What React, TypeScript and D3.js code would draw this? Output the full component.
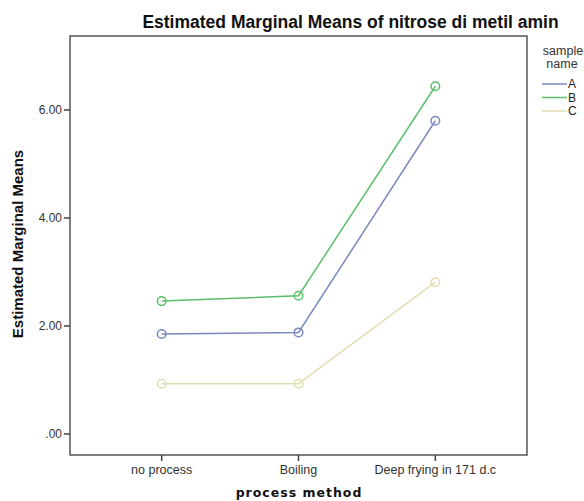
import React from "react";
import * as d3 from "d3";

const categories = ["no process", "Boiling", "Deep frying in 171 d.c"];
const seriesNames = ["A", "B", "C"];
const valuesA = [1.85, 1.88, 5.8];
const valuesB = [2.46, 2.56, 6.44];
const valuesC = [0.93, 0.93, 2.81];
const yTicks = [0, 2, 4, 6];
const colors = ["#7b88c0", "#5cbf6b", "#e2ddb3"];

const W = 584;
const H = 501;
const left = 70, right = 527, top = 36, bottom = 455;

export default function App() {
  const x = d3.scalePoint<string>().domain(categories).range([left, right]).padding(0.67);
  const y = d3.scaleLinear().domain([-0.39, 7.37]).range([bottom, top]);
  const line = d3.line<[string, number]>().x((d) => x(d[0]) as number).y((d) => y(d[1]));
  const all = [valuesA, valuesB, valuesC];
  const font = "Arial, 'Liberation Sans', sans-serif";
  return (
    <svg width={W} height={H} style={{ position: "absolute", left: 0, top: 0, background: "#fff" }}>
      <rect x={0} y={0} width={W} height={H} fill="#fff" />
      <text x={350.5} y={28} textAnchor="middle" fontFamily={font} fontWeight="bold" fontSize={17.5} fill="#111">
        Estimated Marginal Means of nitrose di metil amin
      </text>
      <rect x={left} y={top} width={right - left} height={bottom - top} fill="none" stroke="#555" strokeWidth={1.5} />
      {yTicks.map((t) => (
        <g key={t}>
          <line x1={left - 6} x2={left} y1={y(t)} y2={y(t)} stroke="#444" strokeWidth={1.5} />
          <text x={left - 8} y={y(t)} dy="0.35em" textAnchor="end" fontFamily={font} fontSize={12} fill="#333">
            {t === 0 ? ".00" : t.toFixed(2)}
          </text>
        </g>
      ))}
      {categories.map((c) => (
        <g key={c}>
          <line x1={x(c)} x2={x(c)} y1={bottom} y2={bottom + 6} stroke="#444" strokeWidth={1.5} />
          <text x={x(c)} y={bottom + 19} textAnchor="middle" fontFamily={font} fontSize={12.5} fill="#333">
            {c}
          </text>
        </g>
      ))}
      <text
        transform={`translate(23,${244}) rotate(-90)`}
        textAnchor="middle"
        fontFamily={font}
        fontWeight="bold"
        fontSize={15}
        fill="#111"
      >
        Estimated Marginal Means
      </text>
      <text x={299} y={497} textAnchor="middle" fontFamily="'DejaVu Sans', Verdana, sans-serif" fontWeight="bold" fontSize={12.5} letterSpacing={1} fill="#111">
        process method
      </text>
      {all.map((vals, i) => {
        const pts: [string, number][] = categories.map((c, j) => [c, vals[j]]);
        return (
          <g key={i}>
            <path d={line(pts) || ""} fill="none" stroke={colors[i]} strokeWidth={1.5} />
            {pts.map((p, j) => (
              <circle key={j} cx={x(p[0])} cy={y(p[1])} r={4.3} fill="none" stroke={colors[i]} strokeWidth={1.5} />
            ))}
          </g>
        );
      })}
      <text x={563} y={55} textAnchor="middle" fontFamily={font} fontSize={12.5} fill="#333">sample</text>
      <text x={562} y={68} textAnchor="middle" fontFamily={font} fontSize={12.5} fill="#333">name</text>
      {seriesNames.map((s, i) => (
        <g key={s}>
          <line x1={542} x2={567} y1={84 + i * 13.5} y2={84 + i * 13.5} stroke={colors[i]} strokeWidth={1.5} />
          <text x={568} y={84 + i * 13.5} dy="0.35em" fontFamily={font} fontSize={12} fill="#222">{s}</text>
        </g>
      ))}
    </svg>
  );
}
